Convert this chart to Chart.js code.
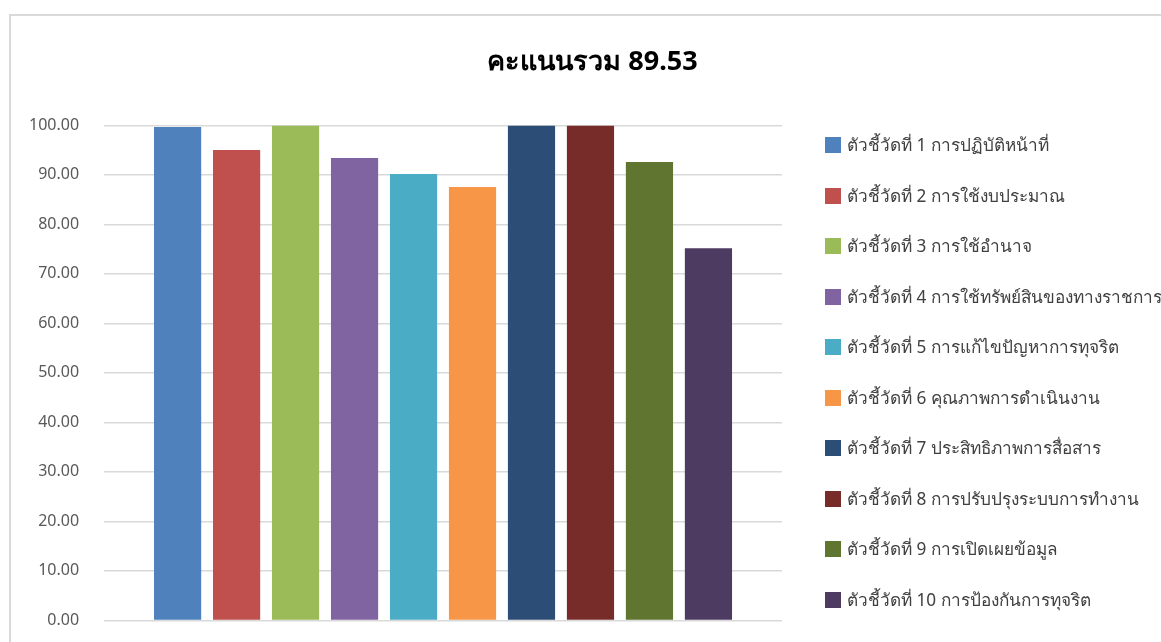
<!DOCTYPE html>
<html>
<head>
<meta charset="utf-8">
<script src="https://cdn.jsdelivr.net/npm/chart.js@4"></script>
<style>
  html, body { margin: 0; padding: 0; background: #fff; overflow: hidden; }
  #frame {
    position: absolute; left: 9px; top: 14px;
    width: 1200px; height: 700px;
    border: 2px solid #d9d9d9;
  }
  #wrap { position: absolute; left: -2px; top: 16px; width: 1183px; height: 639px; }
  #legend {
    position: absolute; left: 825px; top: 119.7px;
    font-family: Tahoma, "Noto Sans", "DejaVu Sans", sans-serif;
    font-size: 17.2px; color: #404040;
  }
  .item { height: 50.56px; display: flex; align-items: center; white-space: nowrap; }
  .box { width: 16px; height: 16px; margin-right: 6px; flex: none; }
</style>
</head>
<body>
<div id="frame"></div>
<div id="wrap"><canvas id="scoreChart"></canvas></div>
<div id="legend"></div>
<script>
// ข้อมูลตัวชี้วัด
const indicatorNames = [
    'ตัวชี้วัดที่ 1 การปฏิบัติหน้าที่',
    'ตัวชี้วัดที่ 2 การใช้งบประมาณ',
    'ตัวชี้วัดที่ 3 การใช้อำนาจ',
    'ตัวชี้วัดที่ 4 การใช้ทรัพย์สินของทางราชการ',
    'ตัวชี้วัดที่ 5 การแก้ไขปัญหาการทุจริต',
    'ตัวชี้วัดที่ 6 คุณภาพการดำเนินงาน',
    'ตัวชี้วัดที่ 7 ประสิทธิภาพการสื่อสาร',
    'ตัวชี้วัดที่ 8 การปรับปรุงระบบการทำงาน',
    'ตัวชี้วัดที่ 9 การเปิดเผยข้อมูล',
    'ตัวชี้วัดที่ 10 การป้องกันการทุจริต'
];
const scores = [99.70, 95.05, 100.00, 93.43, 90.19, 87.56, 100.00, 100.00, 92.60, 75.20];
const barColors = ['#4F81BD', '#C0504D', '#9BBB59', '#8064A2', '#4BACC6',
                   '#F79646', '#2C4D75', '#772C2A', '#5F7530', '#4D3B62'];
const yTicks = [0, 10, 20, 30, 40, 50, 60, 70, 80, 90, 100];
const chartTitle = 'คะแนนรวม 89.53';

const fontFamily = 'Tahoma, "Noto Sans", "DejaVu Sans", sans-serif';

document.addEventListener('DOMContentLoaded', function () {
    const ctx = document.getElementById('scoreChart').getContext('2d');

    const datasets = indicatorNames.map(function (name, i) {
        return {
            label: name,
            data: [scores[i]],
            backgroundColor: barColors[i],
            borderWidth: 0,
            barPercentage: 0.8,
            categoryPercentage: 0.87
        };
    });

    const chart = new Chart(ctx, {
        type: 'bar',
        data: { labels: [''], datasets: datasets },
        options: {
            responsive: true,
            maintainAspectRatio: false,
            animation: false,
            layout: { padding: { left: 6, right: 0, top: 0, bottom: 3.4 } },
            scales: {
                y: {
                    min: 0,
                    max: 100,
                    afterBuildTicks: function (axis) {
                        axis.ticks = yTicks.map(function (v) { return { value: v }; });
                    },
                    border: { display: false },
                    grid: { color: '#d9d9d9', lineWidth: 1.5, drawTicks: false },
                    ticks: {
                        padding: 25,
                        color: '#595959',
                        font: { family: fontFamily, size: 16 },
                        callback: function (v) { return Number(v).toFixed(2); }
                    }
                },
                // แกนว่างด้านขวา เว้นที่ให้ legend
                legendSpace: {
                    type: 'linear',
                    position: 'right',
                    min: 0,
                    max: 1,
                    border: { display: false },
                    grid: { display: false },
                    ticks: { display: false },
                    afterFit: function (scale) { scale.width = 399; }
                },
                x: {
                    display: false
                }
            },
            plugins: {
                title: {
                    display: true,
                    text: chartTitle,
                    color: '#000',
                    font: { family: fontFamily, size: 27, weight: 'bold' },
                    padding: { top: 30, bottom: 47 }
                },
                legend: { display: false },
                tooltip: { enabled: false }
            }
        }
    });

    // legend แบบ HTML (ข้อความยาวเกินความกว้างที่ legend ของ Chart.js ให้)
    const legendEl = document.getElementById('legend');
    chart.data.datasets.forEach(function (ds) {
        const row = document.createElement('div');
        row.className = 'item';
        const box = document.createElement('span');
        box.className = 'box';
        box.style.background = ds.backgroundColor;
        const txt = document.createElement('span');
        txt.textContent = ds.label;
        row.appendChild(box);
        row.appendChild(txt);
        legendEl.appendChild(row);
    });
});
</script>
</body>
</html>
